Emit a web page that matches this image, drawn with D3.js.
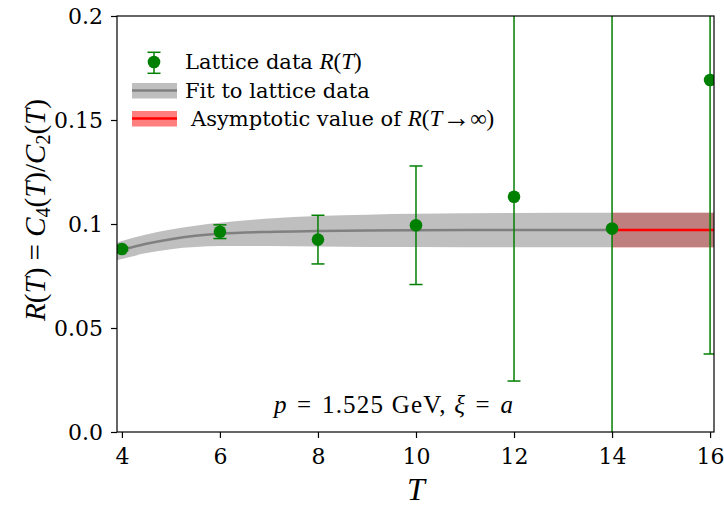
<!DOCTYPE html>
<html lang="en">
<head>
<meta charset="utf-8">
<title>R(T) = C4(T)/C2(T)</title>
<style>
  body { margin: 0; background: #fff; }
  svg text { font-family: "DejaVu Serif", serif; fill: #000; }
  .cm { font-family: "Liberation Serif", serif; }
  .math { font-family: "Liberation Serif", serif; font-style: italic; }
</style>
</head>
<body>
<div id="chart"></div>
<script src="https://d3js.org/d3.v7.min.js"></script>
<script>
  // lattice data points
  const tVals = [4, 6, 8, 10, 12, 14, 16];
  const rVals = [0.0880, 0.0963, 0.0925, 0.0994, 0.1131, 0.0978, 0.1692];
  const rErrs = [0.0008, 0.0033, 0.0117, 0.0285, 0.0886, 0.1450, 0.1317];

  // fit curve and band
  const fitT     = [3.9, 4, 4.5, 5, 5.5, 6, 7, 8, 9, 10, 12, 14];
  const fitMid   = [0.0868, 0.0875, 0.0905, 0.0927, 0.0943, 0.0953, 0.0962, 0.0966, 0.0969, 0.0970, 0.0971, 0.0971];
  const fitUpper = [0.0910, 0.0918, 0.0950, 0.0973, 0.0992, 0.1006, 0.1026, 0.1038, 0.1045, 0.1049, 0.1053, 0.1054];
  const fitLower = [0.0826, 0.0832, 0.0860, 0.0879, 0.0889, 0.0894, 0.0894, 0.0892, 0.0890, 0.0889, 0.0888, 0.0888];

  // asymptotic value R(T -> inf)
  const asymT = [14, 16.08];
  const asymMid = 0.0971;
  const asymUpper = 0.1054;
  const asymLower = 0.0888;

  const xTicks = [4, 6, 8, 10, 12, 14, 16];
  const yTicks = [0, 0.05, 0.1, 0.15, 0.2];
  const yTickLabels = ["0.0", "0.05", "0.1", "0.15", "0.2"];

  const width = 724, height = 510;
  const mLeft = 117, mRight = 714, mTop = 16, mBottom = 432;

  const svg = d3.select("#chart").append("svg")
    .attr("width", width)
    .attr("height", height);

  const x = d3.scaleLinear().domain([3.9, 16.08]).range([mLeft, mRight]);
  const y = d3.scaleLinear().domain([0, 0.2]).range([mBottom, mTop]);

  svg.append("clipPath").attr("id", "plotclip")
    .append("rect")
    .attr("x", mLeft).attr("y", mTop)
    .attr("width", mRight - mLeft).attr("height", mBottom - mTop);

  const plot = svg.append("g").attr("clip-path", "url(#plotclip)");

  // red asymptotic band, then the gray fit band over it
  plot.append("rect")
    .attr("x", x(asymT[0]))
    .attr("y", y(asymUpper))
    .attr("width", x(asymT[1]) - x(asymT[0]))
    .attr("height", y(asymLower) - y(asymUpper))
    .attr("fill", "#ff0000")
    .attr("fill-opacity", 0.5);

  const bandT = fitT.concat([asymT[1]]);
  const bandUp = fitUpper.concat([asymUpper]);
  const bandLo = fitLower.concat([asymLower]);

  const area = d3.area()
    .x((d, i) => x(bandT[i]))
    .y0((d, i) => y(bandLo[i]))
    .y1((d, i) => y(bandUp[i]))
    .curve(d3.curveMonotoneX);

  plot.append("path")
    .attr("d", area(bandT))
    .attr("fill", "#808080")
    .attr("fill-opacity", 0.5);

  const line = d3.line()
    .x((d, i) => x(fitT[i]))
    .y((d, i) => y(fitMid[i]))
    .curve(d3.curveMonotoneX);

  plot.append("path")
    .attr("d", line(fitT))
    .attr("fill", "none")
    .attr("stroke", "#808080")
    .attr("stroke-width", 2.5);

  plot.append("line")
    .attr("x1", x(asymT[0])).attr("x2", x(asymT[1]))
    .attr("y1", y(asymMid)).attr("y2", y(asymMid))
    .attr("stroke", "#ff0000")
    .attr("stroke-width", 2.5);

  // error bars
  const green = "#008000";
  const capW = 6.5;
  const pts = plot.selectAll("g.pt")
    .data(tVals.map((t, i) => ({ t: t, r: rVals[i], e: rErrs[i] })))
    .enter().append("g").attr("class", "pt");

  pts.append("line")
    .attr("x1", d => x(d.t)).attr("x2", d => x(d.t))
    .attr("y1", d => y(d.r - d.e)).attr("y2", d => y(d.r + d.e))
    .attr("stroke", green).attr("stroke-width", 1.5);

  pts.each(function (d) {
    const g = d3.select(this);
    [d.r - d.e, d.r + d.e].forEach(v => {
      g.append("line")
        .attr("x1", x(d.t) - capW).attr("x2", x(d.t) + capW)
        .attr("y1", y(v)).attr("y2", y(v))
        .attr("stroke", green).attr("stroke-width", 1.5);
    });
  });

  pts.append("circle")
    .attr("cx", d => x(d.t)).attr("cy", d => y(d.r))
    .attr("r", 6.3)
    .attr("fill", green);

  // axes
  const xAxis = svg.append("g")
    .attr("transform", `translate(0,${mBottom})`)
    .call(d3.axisBottom(x).tickValues(xTicks).tickSize(6).tickPadding(10).tickFormat(d3.format("d")));
  const yAxis = svg.append("g")
    .attr("transform", `translate(${mLeft},0)`)
    .call(d3.axisLeft(y).tickValues(yTicks).tickSize(6).tickPadding(8).tickFormat((d, i) => yTickLabels[i]));

  [xAxis, yAxis].forEach(a => {
    a.select(".domain").remove();
    a.selectAll(".tick line").attr("stroke", "#000").attr("stroke-width", 1.2);
    a.selectAll(".tick text").attr("font-size", 22).attr("font-family", "DejaVu Serif, serif");
  });

  svg.append("rect")
    .attr("x", mLeft).attr("y", mTop)
    .attr("width", mRight - mLeft).attr("height", mBottom - mTop)
    .attr("fill", "none").attr("stroke", "#000").attr("stroke-width", 1.2);

  // legend
  const leg = svg.append("g");
  const hx = 154;
  leg.append("line").attr("x1", hx).attr("x2", hx).attr("y1", 52.3).attr("y2", 73.3)
    .attr("stroke", green).attr("stroke-width", 1.5);
  [52.3, 73.3].forEach(v => leg.append("line")
    .attr("x1", hx - capW).attr("x2", hx + capW).attr("y1", v).attr("y2", v)
    .attr("stroke", green).attr("stroke-width", 1.5));
  leg.append("circle").attr("cx", hx).attr("cy", 62).attr("r", 6.3).attr("fill", green);

  leg.append("rect").attr("x", 132).attr("y", 83).attr("width", 45).attr("height", 15.5)
    .attr("fill", "#808080").attr("fill-opacity", 0.5);
  leg.append("line").attr("x1", 132).attr("x2", 177).attr("y1", 90.5).attr("y2", 90.5)
    .attr("stroke", "#808080").attr("stroke-width", 2.5);

  leg.append("rect").attr("x", 132).attr("y", 111).attr("width", 45).attr("height", 15.5)
    .attr("fill", "#ff0000").attr("fill-opacity", 0.5);
  leg.append("line").attr("x1", 132).attr("x2", 177).attr("y1", 118.5).attr("y2", 118.5)
    .attr("stroke", "#ff0000").attr("stroke-width", 2.5);

  const t1 = leg.append("text").attr("x", 185).attr("y", 69).attr("font-size", 21);
  t1.append("tspan").text("Lattice data ");
  t1.append("tspan").attr("class", "math").attr("font-size", 23).text("R");
  t1.append("tspan").attr("class", "cm").attr("font-size", 23).text("(");
  t1.append("tspan").attr("class", "math").attr("font-size", 23).text("T");
  t1.append("tspan").attr("class", "cm").attr("font-size", 23).text(")");

  leg.append("text").attr("x", 185).attr("y", 97.5).attr("font-size", 21)
    .text("Fit to lattice data");

  const t3 = leg.append("text").attr("x", 191).attr("y", 125.5).attr("font-size", 21);
  t3.append("tspan").text("Asymptotic value of ");
  t3.append("tspan").attr("class", "math").attr("font-size", 23).text("R");
  t3.append("tspan").attr("class", "cm").attr("font-size", 23).text("(");
  t3.append("tspan").attr("class", "math").attr("font-size", 23).text("T");
  t3.append("tspan").attr("class", "cm").attr("font-size", 28).attr("dy", 1).text("\u2192");
  t3.append("tspan").attr("class", "cm").attr("font-size", 23).attr("dy", -1).text("\u221E)");

  // annotation
  const ann = svg.append("text").attr("class", "cm").attr("x", 394).attr("y", 413).attr("font-size", 25)
    .attr("text-anchor", "middle").attr("letter-spacing", 1.2);
  ann.append("tspan").attr("class", "math").text("p");
  ann.append("tspan").text("\u2004=\u20041.525 GeV, ");
  ann.append("tspan").attr("class", "math").text("\u03BE");
  ann.append("tspan").text("\u2004=\u2004");
  ann.append("tspan").attr("class", "math").text("a");

  // axis labels
  svg.append("text").attr("class", "math")
    .attr("x", 416).attr("y", 500).attr("font-size", 32)
    .attr("text-anchor", "middle").text("T");

  const yl = svg.append("text").attr("class", "cm")
    .attr("transform", `translate(45,${(mTop + mBottom) / 2 - 14}) rotate(-90)`)
    .attr("font-size", 29).attr("text-anchor", "middle");
  yl.append("tspan").attr("class", "math").text("R");
  yl.append("tspan").text("(");
  yl.append("tspan").attr("class", "math").text("T");
  yl.append("tspan").text(") = ");
  yl.append("tspan").attr("class", "math").text("C");
  yl.append("tspan").attr("font-size", 20).attr("dy", 5).text("4");
  yl.append("tspan").attr("dy", -5).text("(");
  yl.append("tspan").attr("class", "math").text("T");
  yl.append("tspan").text(")/");
  yl.append("tspan").attr("class", "math").text("C");
  yl.append("tspan").attr("font-size", 20).attr("dy", 5).text("2");
  yl.append("tspan").attr("dy", -5).text("(");
  yl.append("tspan").attr("class", "math").text("T");
  yl.append("tspan").text(")");
</script>
</body>
</html>
